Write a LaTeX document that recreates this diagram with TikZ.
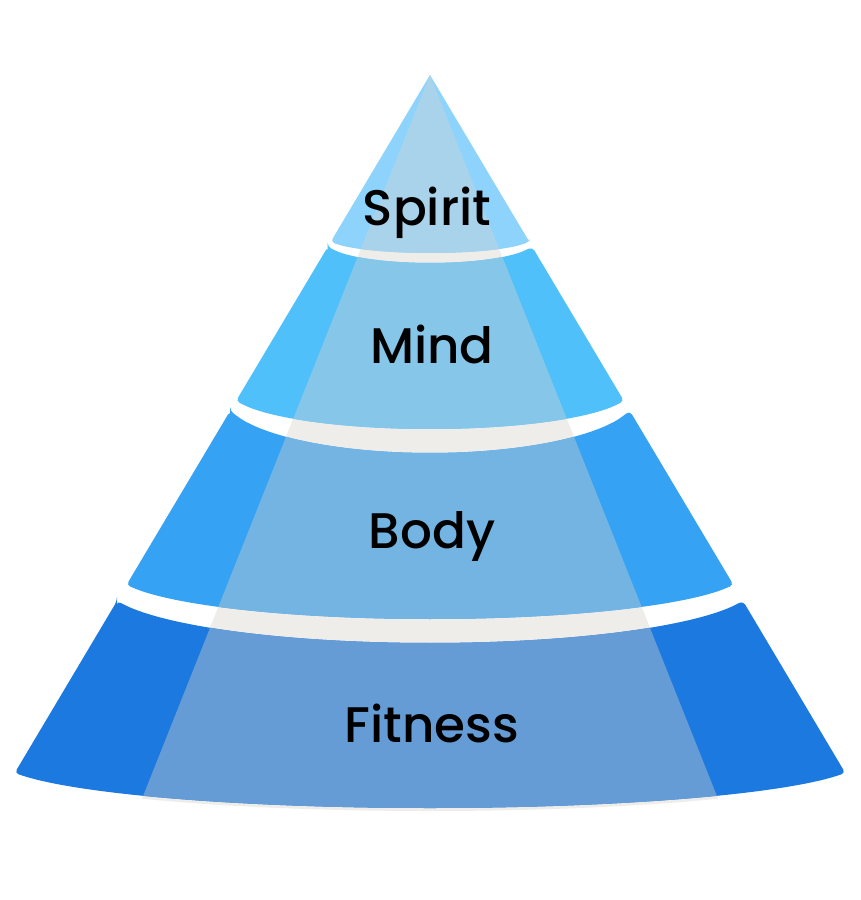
\documentclass[tikz,border=0pt]{standalone}
\usepackage{fontspec}
\setmainfont{Poppins Medium}
\definecolor{spiritSide}{HTML}{8DD3FB}
\definecolor{spiritMid}{HTML}{A9D3EB}
\definecolor{mindSide}{HTML}{4FC0FA}
\definecolor{mindMid}{HTML}{86C7E9}
\definecolor{bodySide}{HTML}{36A2F4}
\definecolor{bodyMid}{HTML}{74B4E3}
\definecolor{fitSide}{HTML}{1B79E0}
\definecolor{fitMid}{HTML}{659CD6}
\definecolor{gapGray}{HTML}{EEEDEA}
\tikzset{
  lbl/.style={anchor=base, text=black, inner sep=0pt, font=\fontsize{50}{60}\selectfont},
  tier/.style={rounded corners=4pt},
}
\def\spiritpath{(380.3,158.5) -- (430,75) -- (529.4,242) [rounded corners=4pt] -- plot[domain=99.4:-99.4,samples=17] ({430+\x},{253-15.17*(1-sqrt(1-(\x/103.4)^2))}) -- cycle}
\def\mindpath{(327.7,247) -- plot[domain=-102.3:102.3,samples=17] ({430+\x},{263-22.06*(1-sqrt(1-(\x/106.4)^2))}) -- plot[domain=194:-194,samples=31] ({430+\x},{429-38.6*(1-sqrt(1-(\x/201.8)^2))}) -- cycle}
\def\bodypath{(230.1,411) -- plot[domain=-199.9:199.9,samples=31] ({430+\x},{453-57.9*(1-sqrt(1-(\x/207.9)^2))}) -- plot[domain=303.5:-303.5,samples=49] ({430+\x},{619-46.9*(1-sqrt(1-(\x/315.6)^2))}) -- cycle}
\def\fitpath{(117,601) -- plot[domain=-313:313,samples=51] ({430+\x},{643-57.9*(1-sqrt(1-(\x/325.5)^2))}) -- plot[domain=415.3:-415.3,samples=67] ({430+\x},{808-48.25*(1-sqrt(1-(\x/431.9)^2))}) -- cycle}
\def\overlaypath{(430,75) -- (718,798.7) -- plot[domain=288:-288,samples=70] ({430+\x},{811-48.25*(1-sqrt(1-(\x/431.9)^2))}) -- cycle}
\begin{document}
\begin{tikzpicture}[x=1pt,y=-1pt]
\useasboundingbox[fill=white] (0,0) rectangle (860,900);
% light overlay band seen in the gaps
\fill[gapGray] \overlaypath;
% tiers
\fill[spiritSide] \spiritpath;
\fill[tier,mindSide] \mindpath;
\fill[tier,bodySide] \bodypath;
\fill[tier,fitSide] \fitpath;
% lighter centre band
\begin{scope}
  \clip \overlaypath;
  \fill[spiritMid] \spiritpath;
  \fill[tier,mindMid] \mindpath;
  \fill[tier,bodyMid] \bodypath;
  \fill[tier,fitMid] \fitpath;
\end{scope}
\node[lbl] (spirit) at (427,225) {Spirit};
\node[lbl] (mind) at (432,363) {Mind};
\node[lbl] (body) at (432,548) {Body};
\node[lbl] (fitness) at (432,742) {Fitness};
\end{tikzpicture}
\end{document}
